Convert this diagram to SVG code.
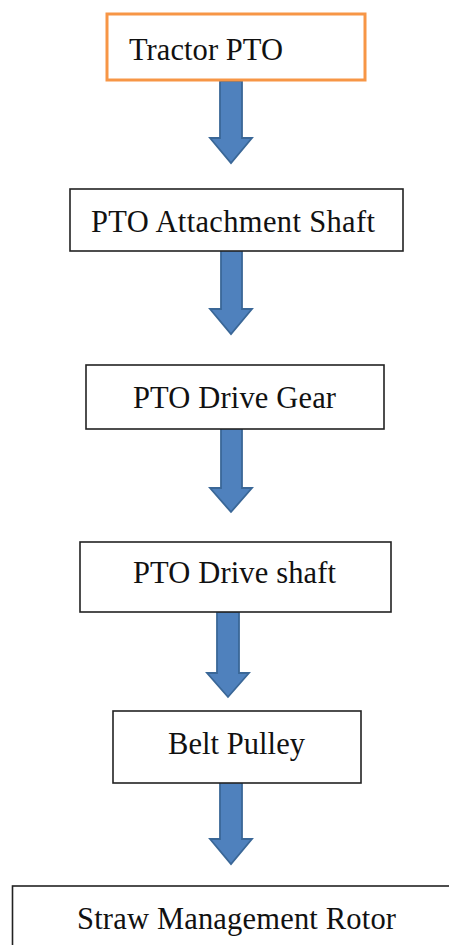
<svg xmlns="http://www.w3.org/2000/svg" width="449" height="945" viewBox="0 0 449 945">
<style>
.box{fill:#fff;stroke:#222;stroke-width:1.6}
.orange{fill:#fff;stroke:#F79646;stroke-width:3}
.lbl{font-family:'Liberation Serif','Times New Roman','DejaVu Serif',serif;font-size:30.5px;fill:#111}
.arr{fill:#4F81BD;stroke:#3A6797;stroke-width:1.8;stroke-linejoin:miter}
</style>
<rect width="449" height="945" fill="#fff"/>
<g id="connectors">
<polygon class="arr" points="220,81 242,81 242,138 252,138 231,163 210,138 220,138"/>
<polygon class="arr" points="221,250 242,250 242,309 252,309 231,334 210,309 221,309"/>
<polygon class="arr" points="221,428 242,428 242,488 252,488 231,512 210,488 221,488"/>
<polygon class="arr" points="217,612 239,612 239,673 249,673 228,697 207,673 217,673"/>
<polygon class="arr" points="220,780 242,780 242,839 252,839 231,864 210,839 220,839"/>
</g>
<g id="n1"><rect class="orange" x="107" y="14" width="258" height="66"/><text class="lbl" font-family="Liberation Serif, serif" x="129" y="60" textLength="154">Tractor PTO</text></g>
<g id="n2"><rect class="box" x="70" y="189" width="333" height="62"/><text class="lbl" font-family="Liberation Serif, serif" x="91" y="232" textLength="284">PTO Attachment Shaft</text></g>
<g id="n3"><rect class="box" x="86" y="365" width="298" height="64"/><text class="lbl" font-family="Liberation Serif, serif" x="133" y="408" textLength="203">PTO Drive Gear</text></g>
<g id="n4"><rect class="box" x="80" y="542" width="311" height="70"/><text class="lbl" font-family="Liberation Serif, serif" x="133" y="583" textLength="203">PTO Drive shaft</text></g>
<g id="n5"><rect class="box" x="113" y="711" width="248" height="72"/><text class="lbl" font-family="Liberation Serif, serif" x="168" y="754" textLength="137">Belt Pulley</text></g>
<g id="n6"><rect class="box" x="12.5" y="886" width="450" height="80"/><text class="lbl" font-family="Liberation Serif, serif" x="77" y="929" textLength="319">Straw Management Rotor</text></g>
</svg>
